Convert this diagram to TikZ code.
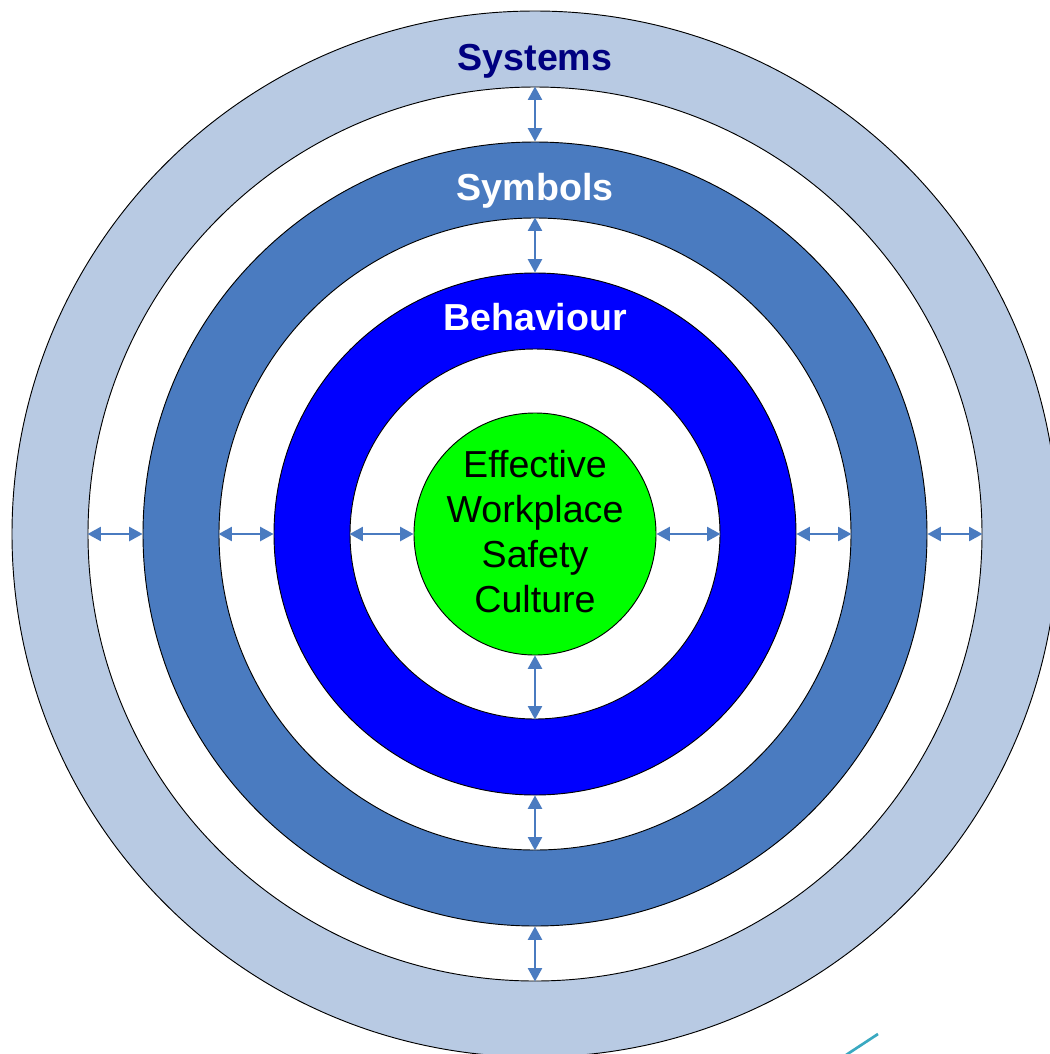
\documentclass[tikz,border=0pt]{standalone}
\usepackage{fontspec}
\setmainfont{Liberation Sans}
\usetikzlibrary{arrows.meta}
\definecolor{sysfill}{HTML}{B8CAE3}
\definecolor{symfill}{HTML}{4A7BC0}
\definecolor{behfill}{HTML}{0000FF}
\definecolor{corefill}{HTML}{00FF00}
\definecolor{navytext}{HTML}{000080}
\definecolor{tealline}{HTML}{3AA9C1}
\tikzset{
  ring/.style={circle,draw=black,line width=0.7pt,inner sep=0pt,minimum size=#1*1.5pt},
  ringlabel/.style={font=\bfseries\fontsize{28.2}{32}\selectfont,inner sep=0pt,anchor=center},
  link/.style={draw=symfill,line width=1.6pt,{Triangle[length=10pt,width=10.5pt]}-{Triangle[length=10pt,width=10.5pt]}}
}
\begin{document}
\begin{tikzpicture}[x=0.75pt,y=-0.75pt]
\useasboundingbox (0,0) rectangle (1050,1054);
\clip (0,0) rectangle (1050,1054);
\fill[white] (0,0) rectangle (1050,1054);
\coordinate (c) at (535,534);
\node[ring=523,fill=sysfill] (sysO) at (c) {};
\node[ring=447,fill=white] (sysI) at (c) {};
\node[ring=392,fill=symfill] (symO) at (c) {};
\node[ring=316,fill=white] (symI) at (c) {};
\node[ring=261,fill=behfill] (behO) at (c) {};
\node[ring=185,fill=white] (behI) at (c) {};
\node[ring=121,fill=corefill] (core) at (c) {};
\node[ringlabel,text=navytext] (lsys) at (535,61) {Systems};
\node[ringlabel,text=white] (lsym) at (535,191) {Symbols};
\node[ringlabel,text=white] (lbeh) at (535,317) {Behaviour};
\node[inner sep=0pt,align=center,font=\fontsize{28.2}{33.75}\selectfont,text=black] (ltxt) at (535,532) {Effective\\Workplace\\Safety\\Culture};
\foreach \a/\b in {sysI/symO,symI/behO}{
  \draw[link] (\a.north) -- (\b.north);
}
\foreach \a/\b in {sysI/symO,symI/behO,behI/core}{
  \draw[link] (\a.south) -- (\b.south);
  \draw[link] (\a.west) -- (\b.west);
  \draw[link] (\a.east) -- (\b.east);
}
\coordinate (tealA) at (878,1034);
\coordinate (tealB) at (846,1055);
\draw[tealline,line width=2pt] (tealA) -- (tealB);
\end{tikzpicture}
\end{document}
